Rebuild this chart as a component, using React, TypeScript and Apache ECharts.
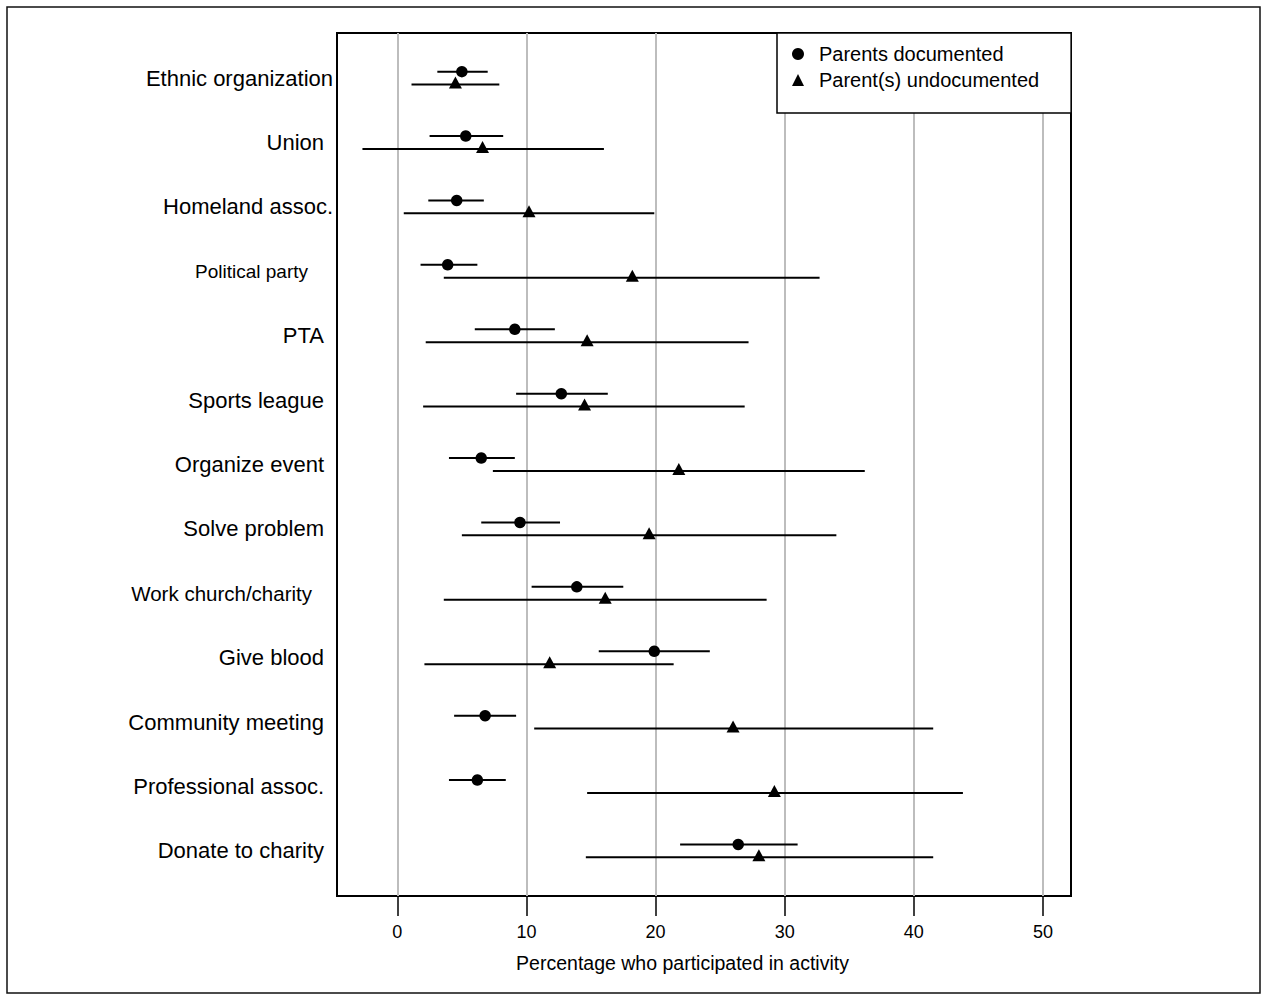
import React, { useEffect, useRef } from "react";
import * as echarts from "echarts";

const categories = [
  "Ethnic organization",
  "Union",
  "Homeland assoc.",
  "Political party",
  "PTA",
  "Sports league",
  "Organize event",
  "Solve problem",
  "Work church/charity",
  "Give blood",
  "Community meeting",
  "Professional assoc.",
  "Donate to charity",
];

const docEst = [5.0, 5.3, 4.6, 3.9, 9.1, 12.7, 6.5, 9.5, 13.9, 19.9, 6.8, 6.2, 26.4];
const docLow = [3.1, 2.5, 2.4, 1.8, 6.0, 9.2, 4.0, 6.5, 10.4, 15.6, 4.4, 4.0, 21.9];
const docHigh = [7.0, 8.2, 6.7, 6.2, 12.2, 16.3, 9.1, 12.6, 17.5, 24.2, 9.2, 8.4, 31.0];

const undEst = [4.5, 6.6, 10.2, 18.2, 14.7, 14.5, 21.8, 19.5, 16.1, 11.8, 26.0, 29.2, 28.0];
const undLow = [1.1, -2.7, 0.5, 3.6, 2.2, 2.0, 7.4, 5.0, 3.6, 2.1, 10.6, 14.7, 14.6];
const undHigh = [7.9, 16.0, 19.9, 32.7, 27.2, 26.9, 36.2, 34.0, 28.6, 21.4, 41.5, 43.8, 41.5];

const xTicks = [0, 10, 20, 30, 40, 50];
const seriesNames = ["Parents documented", "Parent(s) undocumented"];

const FONT = '"Liberation Sans", Arial, Helvetica, sans-serif';
const OFF = 0.1;

const labelKey: Record<string, string> = {
  "Ethnic organization": "e",
  "Homeland assoc.": "e",
  "Political party": "p",
  "Work church/charity": "w",
};

export default function App() {
  const ref = useRef<HTMLDivElement>(null);

  useEffect(() => {
    if (!ref.current) return;
    const chart = echarts.init(ref.current, null, { renderer: "svg" });

    const rows = categories.map((_, i) => i + 1);
    const docBars = rows.map((r, i) => [docLow[i], docHigh[i], r - OFF]);
    const undBars = rows.map((r, i) => [undLow[i], undHigh[i], r + OFF]);
    const docPts = rows.map((r, i) => [docEst[i], r - OFF]);
    const undPts = rows.map((r, i) => [undEst[i], r + OFF]);

    const renderBar = (_params: any, api: any) => {
      const p1 = api.coord([api.value(0), api.value(2)]);
      const p2 = api.coord([api.value(1), api.value(2)]);
      return {
        type: "line",
        shape: { x1: p1[0], y1: p1[1], x2: p2[0], y2: p2[1] },
        style: { stroke: "#000", lineWidth: 2 },
      };
    };

    chart.setOption({
      animation: false,
      backgroundColor: "#fff",
      textStyle: { fontFamily: FONT },
      grid: {
        left: 337,
        top: 33,
        width: 734,
        height: 863,
        show: true,
        borderColor: "#000",
        borderWidth: 2,
        backgroundColor: "transparent",
      },
      graphic: [
        {
          type: "rect",
          shape: { x: 7, y: 7, width: 1253, height: 986 },
          style: { fill: "none", stroke: "#111", lineWidth: 1.5 },
          z: -10,
          silent: true,
        },
      ],
      legend: {
        left: 777,
        top: 33,
        orient: "vertical",
        padding: [11, 32, 23, 15],
        itemGap: 6,
        itemWidth: 12,
        itemHeight: 12,
        borderColor: "#000",
        borderWidth: 1.5,
        backgroundColor: "#fff",
        selectedMode: false,
        textStyle: {
          fontFamily: FONT,
          fontSize: 20,
          color: "#000",
          padding: [0, 0, 0, 10],
        },
        data: [
          { name: seriesNames[0], icon: "circle" },
          { name: seriesNames[1], icon: "triangle" },
        ],
      },
      xAxis: {
        type: "value",
        min: -4.67,
        max: 52.17,
        name: "Percentage who participated in activity",
        nameLocation: "middle",
        nameGap: 57,
        nameTextStyle: {
          fontFamily: FONT,
          fontSize: 19.5,
          color: "#000",
          padding: [0, 43, 0, 0],
        },
        axisLine: { show: false },
        axisTick: {
          show: true,
          length: 20,
          customValues: xTicks,
          lineStyle: { color: "#000", width: 1.5 },
        },
        axisLabel: {
          customValues: xTicks,
          margin: 27,
          fontFamily: FONT,
          fontSize: 18,
          color: "#000",
        },
        splitLine: {
          show: true,
          lineStyle: { color: "#bdbdbd", width: 2 },
        },
      },
      yAxis: {
        type: "value",
        inverse: true,
        min: 0.3,
        max: 13.7,
        axisLine: { show: false },
        axisTick: { show: false, customValues: rows },
        splitLine: { show: false },
        axisLabel: {
          customValues: rows,
          margin: 4,
          formatter: (v: number) => {
            const name = categories[Math.round(v) - 1];
            if (!name) return "";
            const k = labelKey[name] || "n";
            return `{${k}|${name}}`;
          },
          rich: {
            n: { fontFamily: FONT, fontSize: 22, color: "#000", padding: [0, 9, 0, 0] },
            e: { fontFamily: FONT, fontSize: 22, color: "#000", padding: [0, 0, 0, 0] },
            p: { fontFamily: FONT, fontSize: 19, color: "#000", padding: [0, 25, 0, 0] },
            w: { fontFamily: FONT, fontSize: 20.5, color: "#000", padding: [0, 21, 0, 0] },
          },
        },
      },
      series: [
        {
          name: "ci-doc",
          type: "custom",
          renderItem: renderBar,
          encode: { x: [0, 1], y: 2 },
          data: docBars,
          z: 2,
          silent: true,
        },
        {
          name: "ci-und",
          type: "custom",
          renderItem: renderBar,
          encode: { x: [0, 1], y: 2 },
          data: undBars,
          z: 2,
          silent: true,
        },
        {
          name: seriesNames[0],
          type: "scatter",
          symbol: "circle",
          symbolSize: 11.5,
          itemStyle: { color: "#000", opacity: 1 },
          data: docPts,
          z: 3,
        },
        {
          name: seriesNames[1],
          type: "scatter",
          symbol: "triangle",
          symbolSize: [13, 12],
          symbolOffset: [0, -2],
          itemStyle: { color: "#000", opacity: 1 },
          data: undPts,
          z: 3,
        },
      ],
    });

    return () => {
      chart.dispose();
    };
  }, []);

  return (
    <div
      ref={ref}
      style={{ position: "absolute", left: 0, top: 0, width: 1267, height: 1000, background: "#fff" }}
    />
  );
}
